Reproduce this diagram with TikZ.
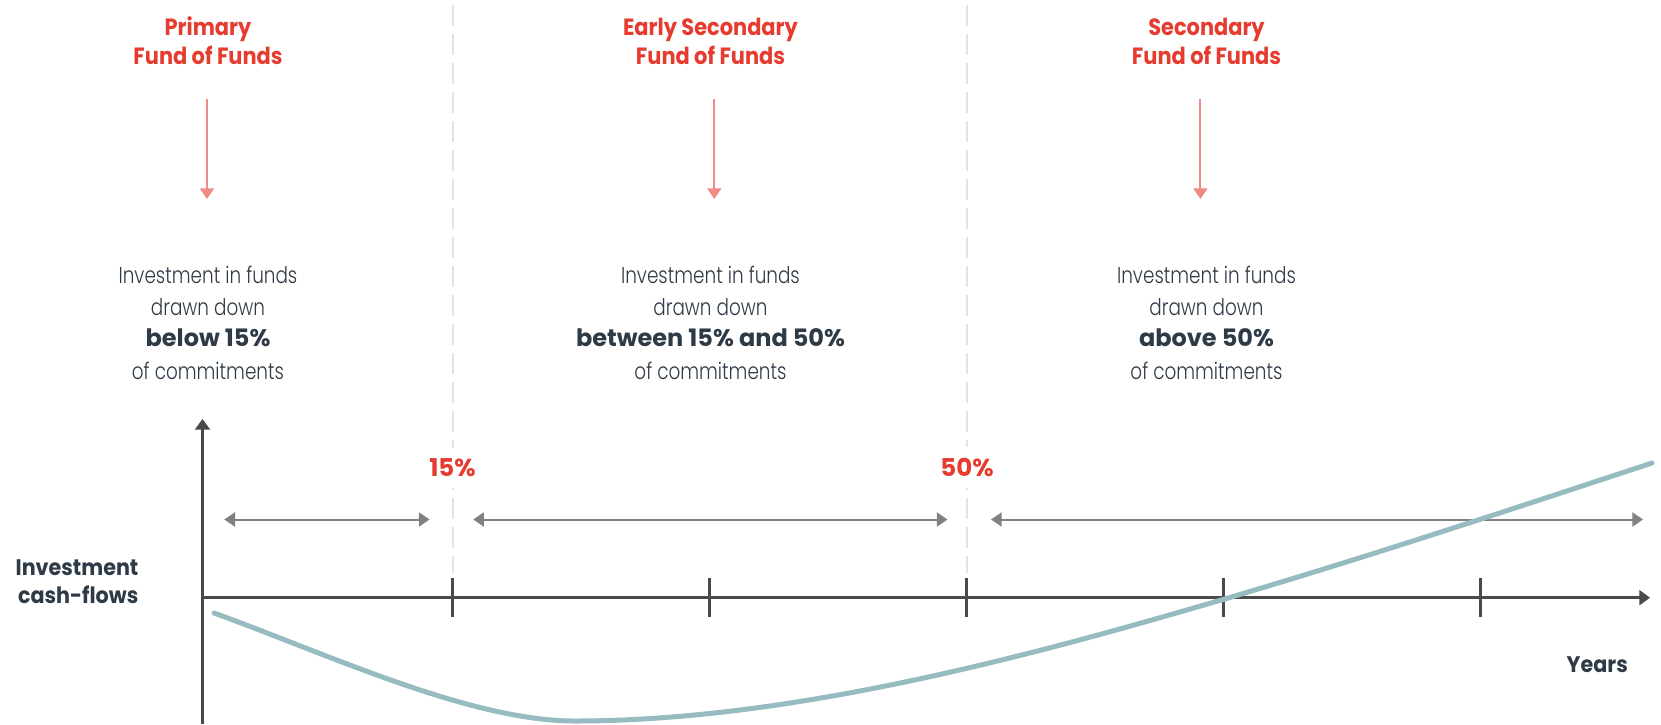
\documentclass[tikz,border=0pt]{standalone}
\usepackage{fontspec}
\usetikzlibrary{arrows.meta}
\newfontfamily\ttlfont{Poppins Bold}[FakeStretch=0.89]
\newfontfamily\lightfont{Poppins Light}[FakeStretch=0.8]
\newfontfamily\heavyfont{Poppins Bold}[FakeStretch=1.0]
\newfontfamily\axfont{Poppins Bold}[FakeStretch=0.92]
\definecolor{ttlred}{RGB}{230,60,47}
\definecolor{arrred}{RGB}{239,138,132}
\definecolor{ink}{RGB}{46,58,69}
\definecolor{axisc}{RGB}{74,74,74}
\definecolor{spanc}{RGB}{128,128,128}
\definecolor{dashc}{RGB}{227,227,227}
\definecolor{curvec}{RGB}{150,188,194}
\begin{document}
\begin{tikzpicture}[x=1pt,y=-1pt,
  ttl/.style={font=\ttlfont\fontsize{23.5}{28}\selectfont, text=ttlred, anchor=base, inner sep=0pt},
  bodyl/.style={font=\lightfont\fontsize{23}{32}\selectfont, text=ink, anchor=base, inner sep=0pt},
  bodyb/.style={font=\heavyfont\fontsize{24}{32}\selectfont, text=ink, anchor=base, inner sep=0pt},
  axlabel/.style={font=\axfont\fontsize{22.5}{28}\selectfont, text=ink, anchor=base east, inner sep=0pt},
  pct/.style={font=\heavyfont\fontsize{24.5}{28}\selectfont, text=ttlred, anchor=base, fill=white, inner xsep=4pt, inner ysep=11pt},
  sep/.style={draw=dashc, line width=2pt, dash pattern=on 21pt off 8pt},
  downarr/.style={draw=arrred, line width=2pt, -{Triangle[length=10.7pt,width=14pt]}},
  span/.style={draw=spanc, line width=2pt, {Triangle[length=10.7pt,width=14pt]}-{Triangle[length=10.7pt,width=14pt]}},
  axisline/.style={draw=axisc, line width=2.5pt, -{Triangle[length=10.7pt,width=15pt]}},
  tickmark/.style={draw=axisc, line width=3pt},
  cflow/.style={draw=curvec, line width=5pt, line cap=round}
]
\useasboundingbox (0,0) rectangle (1661,724);
% dashed separators
\coordinate (d1t) at (452.5,5); \coordinate (d1b) at (452.5,573);
\coordinate (d2t) at (967,5);   \coordinate (d2b) at (967,573);
\draw[sep] (d1t) -- (d1b);
\draw[sep] (d2t) -- (d2b);
\node[pct] (p15) at (452.5,476.7) {15\%};
\node[pct] (p50) at (967,476.7) {50\%};
% titles
\node[ttl] (t1a) at (208,35.7) {Primary};
\node[ttl] (t1b) at (208,64) {Fund of Funds};
\node[ttl] (t2a) at (710.5,35.7) {Early Secondary};
\node[ttl] (t2b) at (710.5,64) {Fund of Funds};
\node[ttl] (t3a) at (1206.5,35.7) {Secondary};
\node[ttl] (t3b) at (1206.5,64) {Fund of Funds};
% red arrows
\coordinate (a1s) at (207,99);    \coordinate (a1e) at (207,199);
\coordinate (a2s) at (714.3,99);  \coordinate (a2e) at (714.3,199);
\coordinate (a3s) at (1200.4,99); \coordinate (a3e) at (1200.4,199);
\draw[downarr] (a1s) -- (a1e);
\draw[downarr] (a2s) -- (a2e);
\draw[downarr] (a3s) -- (a3e);
% body texts
\node[bodyl] (b1a) at (208,283.3) {Investment in funds};
\node[bodyl] (b1b) at (208,315) {drawn down};
\node[bodyb] (b1c) at (208,346.7) {below 15\%};
\node[bodyl] (b1d) at (208,379) {of commitments};
\node[bodyl] (b2a) at (710.5,283.3) {Investment in funds};
\node[bodyl] (b2b) at (710.5,315) {drawn down};
\node[bodyb] (b2c) at (710.5,346.7) {between 15\% and 50\%};
\node[bodyl] (b2d) at (710.5,379) {of commitments};
\node[bodyl] (b3a) at (1206.5,283.3) {Investment in funds};
\node[bodyl] (b3b) at (1206.5,315) {drawn down};
\node[bodyb] (b3c) at (1206.5,346.7) {above 50\%};
\node[bodyl] (b3d) at (1206.5,379) {of commitments};
% span arrows
\coordinate (s1a) at (224.3,519.5); \coordinate (s1b) at (429.6,519.5);
\coordinate (s2a) at (473.2,519.5); \coordinate (s2b) at (947.5,519.5);
\coordinate (s3a) at (991,519.5);   \coordinate (s3b) at (1643,519.5);
\draw[span] (s1a) -- (s1b);
\draw[span] (s2a) -- (s2b);
\draw[span] (s3a) -- (s3b);
% axes
\coordinate (o) at (202.5,597.7);
\coordinate (xend) at (1650,597.7);
\coordinate (ybot) at (202.5,724);
\coordinate (yend) at (202.5,419);
\draw[axisline] (o) -- (xend);
\draw[axisline] (ybot) -- (yend);
\foreach \k/\xx in {1/452,2/709,3/966,4/1223,5/1480}{
  \coordinate (tk\k u) at (\xx,578);
  \coordinate (tk\k d) at (\xx,617);
  \draw[tickmark] (tk\k u) -- (tk\k d);
}
% axis labels
\node[axlabel] (ylab1) at (138.6,575) {Investment};
\node[axlabel] (ylab2) at (138.6,603) {cash-flows};
\node[axlabel] (xlab) at (1628,672.7) {Years};
% cash-flow curve
\coordinate (c0) at (214,613);
\coordinate (c1) at (575,721);
\coordinate (c2) at (1228,598);
\coordinate (c3) at (1652,463);
\draw[cflow] (c0) .. controls (330,655) and (470,721) .. (c1)
  .. controls (800,721) and (1050,650) .. (c2)
  .. controls (1370,556) and (1500,513) .. (c3);
\end{tikzpicture}
\end{document}
